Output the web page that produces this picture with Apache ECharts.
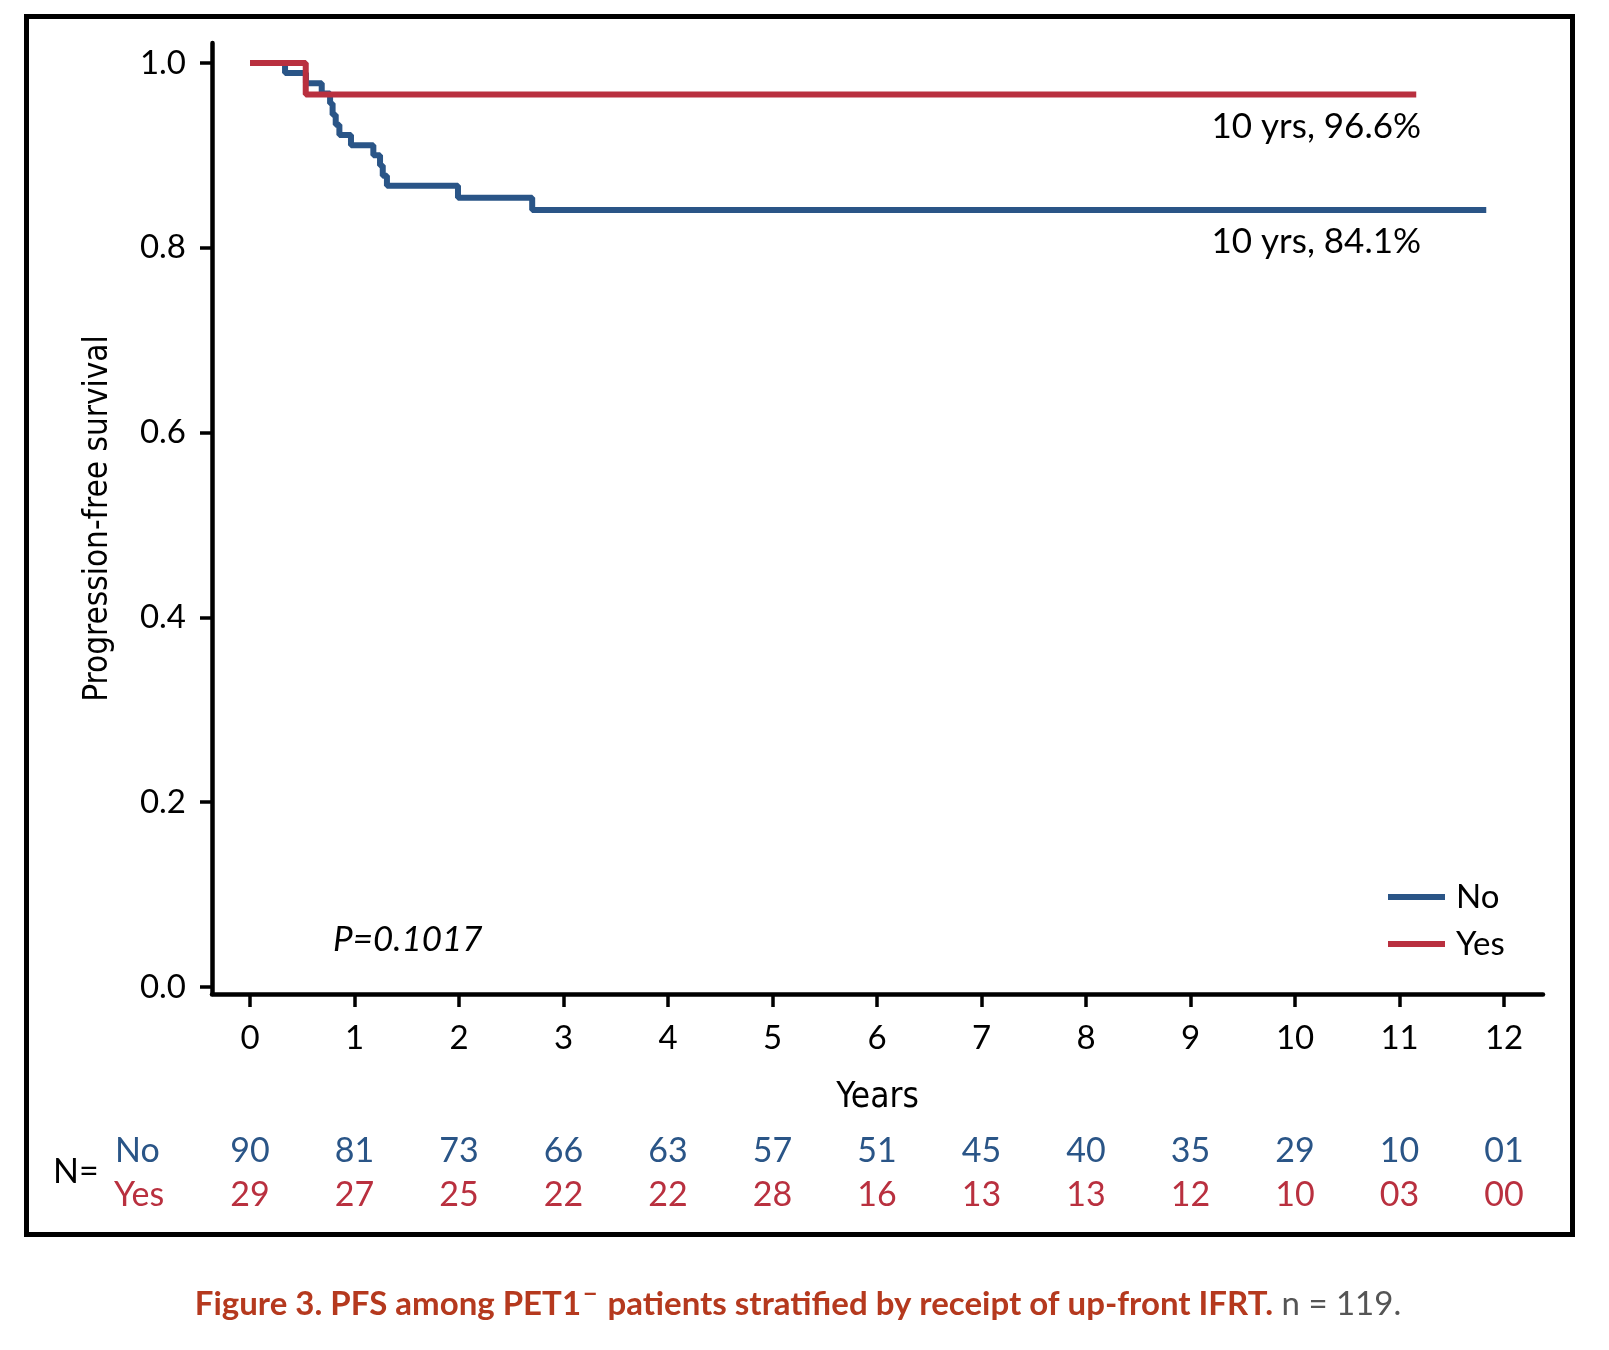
<!DOCTYPE html>
<html><head><meta charset="utf-8">
<script src="https://cdn.jsdelivr.net/npm/echarts@6/dist/echarts.min.js"></script>
<style>html,body{margin:0;padding:0;background:#fff}#c{width:1609px;height:1350px}</style>
</head><body><div id="c"></div>
<script>
// ---- data ----
const noTimes = [0, 0.335, 0.535, 0.686, 0.766, 0.79, 0.82, 0.855, 0.966, 1.18, 1.244, 1.27, 1.31, 1.99, 2.70, 11.83];
const noSurv  = [1, 0.989, 0.978, 0.967, 0.956, 0.944, 0.933, 0.922, 0.911, 0.900, 0.889, 0.878, 0.867, 0.854, 0.841, 0.841];
const yesTimes = [0, 0.533, 11.16];
const yesSurv  = [1, 0.966, 0.966];
const xTicks = [0,1,2,3,4,5,6,7,8,9,10,11,12];
const yTicks = [0, 0.2, 0.4, 0.6, 0.8, 1.0];
const riskNo  = ['90','81','73','66','63','57','51','45','40','35','29','10','01'];
const riskYes = ['29','27','25','22','22','28','16','13','13','12','10','03','00'];
const noLabel = '10 yrs, 84.1%';
const yesLabel = '10 yrs, 96.6%';
const pText = 'P=0.1017';

const BLUE = '#2a5587';
const RED = '#b9303f';
const FONT = 'Lato, "Open Sans", sans-serif';
const NARROW = '"Liberation Sans Narrow", "DejaVu Sans Condensed", sans-serif';

const zip = (a, b) => a.map((v, i) => [v, b[i]]);

const chart = echarts.init(document.getElementById('c'), null, {renderer: 'canvas'});
const option = {
  animation: false,
  backgroundColor: '#fff',
  grid: {left: 212, right: 66, top: 43, bottom: 356, containLabel: false},
  legend: {
    left: 1388, top: 879, orient: 'vertical', padding: 0,
    itemWidth: 57, itemHeight: 6, itemGap: 11, icon: 'rect',
    textStyle: {fontFamily: FONT, fontSize: 33, color: '#000', lineHeight: 36, padding: [0,0,0,6]},
    data: ['No', 'Yes']
  },
  xAxis: {
    type: 'value', min: -0.364, max: 12.373,
    name: 'Years', nameLocation: 'middle', nameGap: 86,
    nameTextStyle: {fontFamily: NARROW, fontSize: 35, color: '#000'},
    axisLine: {show: true, onZero: false, lineStyle: {color: '#000', width: 4.5}},
    axisTick: {show: true, customValues: xTicks, length: 13, lineStyle: {color: '#000', width: 3.5}},
    axisLabel: {customValues: xTicks, margin: 28, fontFamily: FONT, fontSize: 33, color: '#000'},
    splitLine: {show: false}
  },
  yAxis: {
    type: 'value', min: -0.0076, max: 1.0216,
    name: 'Progression-free survival', nameLocation: 'middle', nameRotate: 90, nameGap: 97,
    nameTextStyle: {fontFamily: NARROW, fontSize: 33, color: '#000'},
    axisLine: {show: true, onZero: false, lineStyle: {color: '#000', width: 4.5}},
    axisTick: {show: true, customValues: yTicks, length: 12, lineStyle: {color: '#000', width: 3.5}},
    axisLabel: {customValues: yTicks, margin: 26, fontFamily: FONT, fontSize: 33, color: '#000',
      formatter: v => v.toFixed(1)},
    splitLine: {show: false}
  },
  series: [
    {name: 'No', type: 'line', step: 'end', data: zip(noTimes, noSurv), showSymbol: false,
     lineStyle: {color: BLUE, width: 6}, itemStyle: {color: BLUE}, z: 2},
    {name: 'Yes', type: 'line', step: 'end', data: zip(yesTimes, yesSurv), showSymbol: false,
     lineStyle: {color: RED, width: 6}, itemStyle: {color: RED}, z: 3}
  ]
};
chart.setOption(option);

const px = t => chart.convertToPixel({xAxisIndex: 0}, t);
const g = [];
// frame
g.push({type: 'rect', shape: {x: 26.5, y: 16.5, width: 1546, height: 1218},
  style: {fill: null, stroke: '#000', lineWidth: 5}, silent: true});
// annotations
g.push({type: 'text', style: {text: yesLabel, x: 1421, y: 127, fill: '#000', font: '35px ' + FONT,
  textAlign: 'right', textVerticalAlign: 'middle', align: 'right', verticalAlign: 'middle'}});
g.push({type: 'text', style: {text: noLabel, x: 1421, y: 242, fill: '#000', font: '35px ' + FONT,
  textAlign: 'right', textVerticalAlign: 'middle', align: 'right', verticalAlign: 'middle'}});
g.push({type: 'text', style: {text: pText, x: 333, y: 940, fill: '#000', font: 'italic 35px ' + FONT,
  textAlign: 'left', textVerticalAlign: 'middle', align: 'left', verticalAlign: 'middle'}});
// risk table
const rowNoY = 1151, rowYesY = 1195;
g.push({type: 'text', style: {text: 'N=', x: 53, y: 1172, fill: '#000', font: '34px ' + FONT,
  textAlign: 'left', textVerticalAlign: 'middle', align: 'left', verticalAlign: 'middle'}});
g.push({type: 'text', style: {text: 'No', x: 115, y: rowNoY, fill: BLUE, font: '34px ' + FONT,
  textAlign: 'left', textVerticalAlign: 'middle', align: 'left', verticalAlign: 'middle'}});
g.push({type: 'text', style: {text: 'Yes', x: 114, y: rowYesY, fill: RED, font: '34px ' + FONT,
  textAlign: 'left', textVerticalAlign: 'middle', align: 'left', verticalAlign: 'middle'}});
xTicks.forEach((t, i) => {
  g.push({type: 'text', style: {text: riskNo[i], x: px(t), y: rowNoY, fill: BLUE, font: '34px ' + FONT,
    textAlign: 'center', textVerticalAlign: 'middle', align: 'center', verticalAlign: 'middle'}});
  g.push({type: 'text', style: {text: riskYes[i], x: px(t), y: rowYesY, fill: RED, font: '34px ' + FONT,
    textAlign: 'center', textVerticalAlign: 'middle', align: 'center', verticalAlign: 'middle'}});
});
// caption
g.push({type: 'text', style: {
  text: '{b|Figure 3. PFS among PET1}{s|\u2212}{b| patients stratified by receipt of up-front IFRT.}{n| n = 119.}',
  x: 798, y: 1301, textAlign: 'center', textVerticalAlign: 'middle', align: 'center', verticalAlign: 'middle',
  rich: {
    b: {fontFamily: FONT, fontWeight: 'bold', fontSize: 33, fill: '#b5391e', color: '#b5391e', lineHeight: 40, verticalAlign: 'bottom'},
    s: {fontFamily: FONT, fontWeight: 'bold', fontSize: 25, fill: '#b5391e', color: '#b5391e', lineHeight: 40, verticalAlign: 'top', padding: [0, 2, 0, 2]},
    n: {fontFamily: FONT, fontSize: 33, fill: '#555', color: '#555', lineHeight: 40, verticalAlign: 'bottom'}
  }
}});
chart.setOption({graphic: g});
</script>
</body></html>
